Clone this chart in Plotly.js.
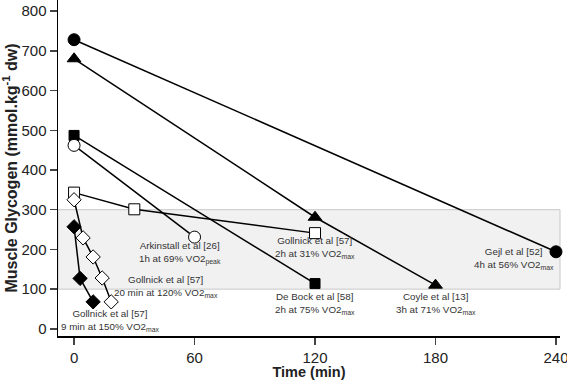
<!DOCTYPE html>
<html><head><meta charset="utf-8">
<script src="https://cdn.plot.ly/plotly-3.0.1.min.js"></script>
<style>html,body{margin:0;padding:0;background:#fff}#c{width:567px;height:380px}</style>
</head><body><div id="c"></div>
<script>
// Data
const gejlT = [0, 240], gejlG = [728, 194];
const coyleT = [0, 120, 180], coyleG = [680, 281, 110];
const debockT = [0, 120], debockG = [487, 114];
const arkT = [0, 60], arkG = [462, 231];
const goll2hT = [0, 30, 120], goll2hG = [343, 301, 241];
const goll20T = [0, 4.5, 9.5, 14, 18.5], goll20G = [325, 229, 181, 128, 68];
const goll9T = [0, 3, 9.5], goll9G = [257, 127, 68];
const xTicks = [0, 60, 120, 180, 240];
const yTicks = [0, 100, 200, 300, 400, 500, 600, 700, 800];

const labels = [
  {x: 53, y: 191, t: "Arkinstall et al [26]<br>1h at 69% VO2<sub>peak</sub>"},
  {x: 120, y: 204, t: "Gollnick et al [57]<br>2h at 31% VO2<sub>max</sub>"},
  {x: 46, y: 106, t: "Gollnick et al [57]<br>20 min at 120% VO2<sub>max</sub>"},
  {x: 18, y: 22, t: "Gollnick et al [57]<br>9 min at 150% VO2<sub>max</sub>"},
  {x: 120, y: 65, t: "De Bock et al [58]<br>2h at 75% VO2<sub>max</sub>"},
  {x: 180, y: 65, t: "Coyle et al [13]<br>3h at 71% VO2<sub>max</sub>"},
  {x: 219, y: 178, t: "Gejl et al [52]<br>4h at 56% VO2<sub>max</sub>"}
];

function tr(x, y, sym, size, filled) {
  return {x: x, y: y, type: 'scatter', mode: 'lines+markers', cliponaxis: false,
    line: {color: '#000', width: 1.5},
    marker: {symbol: sym, size: size, color: filled ? '#000' : '#fff', line: {color: '#000', width: 1}}};
}
const data = [
  tr(gejlT, gejlG, 'circle', 12, true),
  tr(coyleT, coyleG, 'triangle-up', 12, true),
  tr(debockT, debockG, 'square', 10, true),
  tr(arkT, arkG, 'circle', 12, false),
  tr(goll2hT, goll2hG, 'square', 11, false),
  tr(goll20T, goll20G, 'diamond', 11, false),
  tr(goll9T, goll9G, 'diamond', 11, true)
];

const layout = {
  width: 567, height: 380,
  margin: {l: 58, r: 7, t: 0, b: 44},
  paper_bgcolor: '#fff', plot_bgcolor: '#fff',
  showlegend: false,
  font: {family: 'Liberation Sans, Arial, sans-serif', color: '#222'},
  xaxis: {range: [-8, 242], tickvals: xTicks, ticks: 'outside', ticklen: 7, tickwidth: 1.5,
    ticklabeloverflow: 'allow',
    showline: true, linecolor: '#000', linewidth: 1.5, showgrid: false, zeroline: false,
    tickfont: {size: 15, color: '#222'},
    title: {text: '<b>Time (min)</b>', font: {size: 14.5, color: '#222'}, standoff: 6}},
  yaxis: {range: [-18, 828], tickvals: yTicks, ticks: 'outside', ticklen: 7, tickwidth: 1.5,
    ticklabeloverflow: 'allow',
    showline: true, linecolor: '#000', linewidth: 1.5, showgrid: false, zeroline: false,
    tickfont: {size: 15, color: '#222'},
    title: {text: '<b>Muscle Glycogen (mmol.kg<sup>-1</sup> dw)</b>', font: {size: 16, color: '#222'}, standoff: 2}},
  shapes: [{type: 'rect', xref: 'paper', x0: 0, x1: 1, yref: 'y', y0: 100, y1: 300,
    fillcolor: '#f1f1f1', line: {color: '#c8c8c8', width: 1}, layer: 'below'}],
  annotations: labels.map(l => ({x: l.x, y: l.y, text: l.t, showarrow: false, xref: 'x', yref: 'y',
    align: 'center', font: {size: 9.8, color: '#333'}}))
};
Plotly.newPlot('c', data, layout, {staticPlot: true});
</script></body></html>
